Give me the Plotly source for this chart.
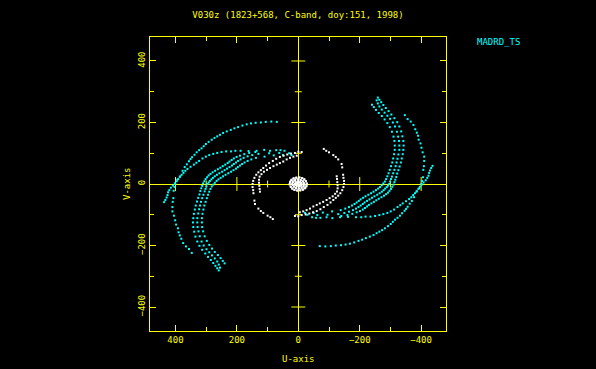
import plotly.graph_objects as go

# ---------------- text ----------------
title_text = "V030z (1823+568, C-band, doy:151, 1998)"
source_label = "MADRD_TS"
x_title = "U-axis"
y_title = "V-axis"
major_ticks = [-400, -200, 0, 200, 400]
minor_ticks = [-300, -100, 100, 300]

# ---------------- data (u, v) in kilo-lambda; conjugates (-u,-v) are plotted too ----------------
# long baselines (cyan)
arcA = [(70, 202), (88, 203), (106, 202), (122, 200), (139, 199), (154, 197), (168, 194), (182, 190),
        (196, 185), (208, 181), (220, 176), (233, 171), (245, 166), (255, 160), (264, 155), (273, 150),
        (282, 144), (292, 137), (301, 130), (308, 123), (315, 116), (323, 110), (331, 103), (338, 95),
        (346, 87), (351, 81), (356, 74), (363, 64), (370, 55), (377, 43), (385, 25), (394, 14),
        (401, 0), (403, -10), (406, -22), (407, -46), (409, -58), (410, -75), (410, -89), (405, -103),
        (401, -118), (398, -132), (392, -144), (390, -157), (386, -167), (381, -178), (375, -192),
        (366, -203), (356, -211), (347, -224)]
arcB = [(45, 108), (58, 110), (72, 110), (92, 108), (111, 111), (136, 108), (162, 107), (188, 108),
        (205, 108), (219, 106), (235, 106), (250, 104), (264, 101), (277, 98), (290, 94), (301, 89),
        (312, 83), (323, 75), (332, 69), (340, 63), (351, 56), (361, 49), (368, 43), (374, 36),
        (380, 30), (386, 23), (391, 16), (396, 9), (402, 2), (408, -5), (415, -12), (420, -20),
        (424, -27), (426, -36), (429, -44), (433, -52), (437, -59)]
arcC1 = [(140, 104), (160, 101), (176, 97), (190, 92), (201, 88), (210, 83), (217, 78), (224, 73),
         (230, 68), (238, 63), (246, 58), (254, 53), (262, 48), (271, 43), (279, 38), (286, 33),
         (292, 28), (297, 22), (302, 16), (306, 9), (310, 2), (313, -6), (316, -14), (319, -23),
         (322, -34), (326, -45), (330, -57), (334, -70), (337, -83), (340, -97), (342, -111),
         (343, -125), (342, -140), (339, -155), (335, -171), (329, -187), (322, -201), (313, -214),
         (303, -226), (294, -237), (285, -247), (277, -257), (270, -266), (264, -274), (259, -281)]
arcC2 = [(30, 100), (62, 101), (95, 100), (130, 98), (150, 94), (165, 90), (178, 85), (188, 80),
         (196, 75), (203, 70), (210, 65), (216, 60), (224, 55), (232, 50), (240, 45), (248, 40),
         (257, 35), (265, 30), (272, 25), (278, 20), (283, 15), (288, 10), (292, 5), (296, 0),
         (299, -8), (302, -16), (305, -24), (309, -35), (313, -46), (317, -58), (320, -70),
         (323, -82), (326, -96), (329, -111), (329, -125), (328, -140), (325, -154), (321, -170),
         (315, -187), (308, -200), (299, -212), (290, -222), (281, -232), (272, -242), (264, -252),
         (259, -262), (255, -272)]
arcC3 = [(22, 94), (50, 94), (80, 93), (110, 89), (138, 85), (153, 80), (165, 75), (175, 70),
         (183, 65), (190, 60), (197, 55), (203, 50), (211, 45), (219, 40), (228, 35), (237, 30),
         (245, 25), (253, 20), (260, 15), (266, 10), (272, 4), (277, -2), (282, -8), (286, -16),
         (290, -25), (294, -35), (298, -46), (302, -58), (306, -70), (309, -83), (312, -97),
         (314, -111), (314, -125), (313, -140), (310, -154), (305, -170), (298, -185), (290, -198),
         (281, -210), (272, -221), (262, -231), (253, -241), (246, -250), (240, -258)]

# short baselines (white)
arcD1 = [(-11, 104), (0, 105), (11, 101), (24, 99), (36, 96), (48, 92), (60, 88), (72, 82),
         (83, 75), (95, 68), (105, 60), (114, 52), (122, 45), (130, 38), (137, 30), (143, 20),
         (147, 10), (149, 0), (149, -10), (147, -20), (146, -30), (143, -54), (141, -65),
         (130, -80), (122, -88), (114, -94), (100, -103), (91, -108), (83, -114)]
arcD2 = [(5, 92), (16, 89), (27, 85), (38, 80), (49, 73), (60, 68), (70, 63), (81, 58), (92, 52),
         (102, 46), (112, 40), (120, 32), (126, 24), (128, 14), (128, 4), (127, -6), (126, -16),
         (125, -25)]
core = [(28, 0), (26, 8), (22, 14), (15, 19), (6, 21), (-4, 21), (-13, 19), (-20, 15), (-25, 9),
        (-28, 2), (-27, -6), (-23, -12), (-16, -17), (-7, -20), (3, -21), (12, -19), (19, -15),
        (24, -9), (20, 2), (17, 9), (10, 14), (1, 15), (-8, 13), (-15, 8), (-19, 1), (-17, -6),
        (-11, -11), (-2, -14), (7, -13), (14, -9), (18, -3), (11, 1), (8, 6), (1, 8), (-6, 6),
        (-10, 1), (-8, -4), (-2, -7), (5, -6), (9, -3), (0, 0), (3, 2), (-3, -2)]

cyan_tracks = [arcA, arcB, arcC1, arcC2, arcC3]
white_tracks = [arcD1, arcD2, core]

YEL = "#ffff00"
CYAN = "#00ffff"
FONT = "DejaVu Sans Mono"


def with_conjugates(tracks):
    us, vs = [], []
    for tr in tracks:
        for u, v in tr:
            us += [u, -u]
            vs += [v, -v]
    return us, vs


cu, cv = with_conjugates(cyan_tracks)
wu, wv = with_conjugates(white_tracks)

fig = go.Figure()

# ticks drawn across the zero (axis) lines
maj = [t for t in major_ticks if t != 0]
for vals, size in ((maj, 10), (minor_ticks, 5)):
    fig.add_trace(go.Scatter(x=vals, y=[0] * len(vals), mode="markers", hoverinfo="skip",
                             marker=dict(symbol="line-ns", size=size, color=YEL,
                                         line=dict(width=1, color=YEL))))
    fig.add_trace(go.Scatter(x=[0] * len(vals), y=vals, mode="markers", hoverinfo="skip",
                             marker=dict(symbol="line-ew", size=size, color=YEL,
                                         line=dict(width=1, color=YEL))))

fig.add_trace(go.Scatter(x=cu, y=cv, mode="markers", name=source_label,
                         marker=dict(symbol="square", size=2, color=CYAN, line=dict(width=0))))
fig.add_trace(go.Scatter(x=wu, y=wv, mode="markers",
                         marker=dict(symbol="square", size=2, color="#ffffff", line=dict(width=0))))

axis_common = dict(
    showgrid=False, zeroline=True, zerolinecolor=YEL, zerolinewidth=1,
    showline=True, linecolor=YEL, linewidth=1, mirror="ticks", automargin=False,
    ticks="inside", ticklen=6, tickwidth=1, tickcolor=YEL,
    tickvals=major_ticks, tickfont=dict(family=FONT, size=9, color=YEL),
    minor=dict(tickvals=minor_ticks, ticks="inside", ticklen=4, tickwidth=1, tickcolor=YEL, showgrid=False),
)

lab_font = dict(family=FONT, size=9, color=YEL)
fig.update_layout(
    width=596, height=369,
    margin=dict(l=150, r=150, t=37, b=38, autoexpand=False),
    paper_bgcolor="black", plot_bgcolor="black",
    showlegend=False,
    title=dict(text=title_text, x=0.5, xanchor="center", y=1 - 15 / 369, yanchor="middle",
               font=lab_font),
    xaxis=dict(range=[483, -481], autorange=False, **axis_common),
    yaxis=dict(range=[-478, 478], autorange=False, tickangle=-90, **axis_common),
    annotations=[
        dict(text=source_label, xref="paper", yref="paper", x=(475 - 150) / 296,
             y=(331 - 42) / 294, xanchor="left", yanchor="middle", showarrow=False,
             font=dict(family=FONT, size=9, color=CYAN)),
        dict(text=x_title, xref="paper", yref="paper", x=0.5, y=(331 - 359) / 294,
             xanchor="center", yanchor="middle", showarrow=False, font=lab_font),
        dict(text=y_title, xref="paper", yref="paper", x=(127 - 150) / 296, y=0.5,
             xanchor="center", yanchor="middle", textangle=-90, showarrow=False, font=lab_font),
    ],
)

fig.write_html("out.html", config={"displayModeBar": False},
               post_script="document.body.style.margin='0';document.body.style.background='black';")
